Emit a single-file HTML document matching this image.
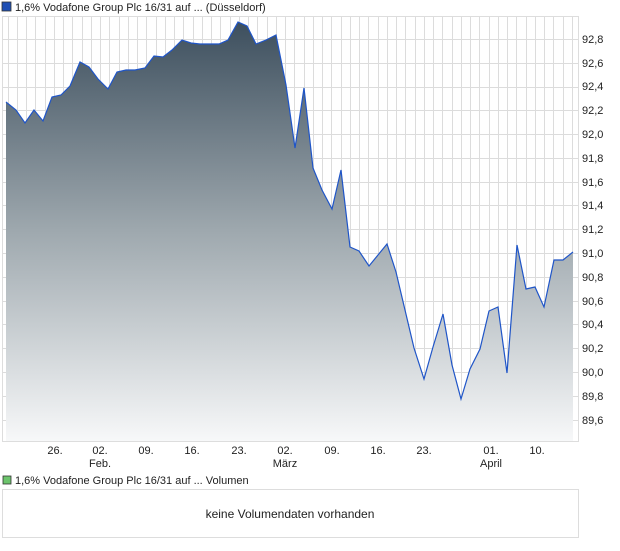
<!DOCTYPE html>
<html><head><meta charset="utf-8"><style>
body{margin:0;background:#fff;width:620px;height:546px;overflow:hidden;font-family:"Liberation Sans",sans-serif;}
</style></head><body>
<svg width="620" height="546" xmlns="http://www.w3.org/2000/svg" font-family="Liberation Sans, sans-serif">
<defs>
<linearGradient id="g" gradientUnits="userSpaceOnUse" x1="0" y1="20" x2="0" y2="441">
<stop offset="0" stop-color="#3c4e5d"/><stop offset="0.5" stop-color="#9ea8ae"/><stop offset="1" stop-color="#f7f8f9"/>
</linearGradient>
</defs>
<rect x="2" y="2" width="9" height="9" fill="#1f4fb4" stroke="#333" stroke-width="0.8"/>
<text x="15" y="11" font-size="11" fill="#222">1,6% Vodafone Group Plc 16/31 auf ... (Düsseldorf)</text>
<rect x="2.5" y="16.5" width="576" height="425" fill="#fff" stroke="#ddd"/>
<g stroke="#dcdcdc" stroke-width="1">
<path d="M3 39.5H578M3 63.5H578M3 87.5H578M3 110.5H578M3 134.5H578M3 158.5H578M3 182.5H578M3 205.5H578M3 229.5H578M3 253.5H578M3 277.5H578M3 301.5H578M3 324.5H578M3 348.5H578M3 372.5H578M3 396.5H578M3 420.5H578"/>
</g>
<g stroke="#dcdcdc">
<path d="M8.5 17V441M17.5 17V441M26.5 17V441M35.5 17V441M45.5 17V441M54.5 17V441M63.5 17V441M72.5 17V441M82.5 17V441M91.5 17V441M100.5 17V441M109.5 17V441M119.5 17V441M128.5 17V441M137.5 17V441M146.5 17V441M156.5 17V441M165.5 17V441M174.5 17V441M183.5 17V441M193.5 17V441M202.5 17V441M211.5 17V441M220.5 17V441M230.5 17V441M239.5 17V441M248.5 17V441M257.5 17V441M267.5 17V441M276.5 17V441M285.5 17V441M294.5 17V441M304.5 17V441M313.5 17V441M322.5 17V441M331.5 17V441M341.5 17V441M350.5 17V441M359.5 17V441M368.5 17V441M378.5 17V441M387.5 17V441M396.5 17V441M405.5 17V441M415.5 17V441M424.5 17V441M433.5 17V441M442.5 17V441M452.5 17V441M461.5 17V441M470.5 17V441M479.5 17V441M489.5 17V441M498.5 17V441M507.5 17V441M516.5 17V441M526.5 17V441M535.5 17V441M544.5 17V441M553.5 17V441M563.5 17V441M572.5 17V441"/>
</g>
<path fill="url(#g)" d="M6,441 L6,102 L16,110 L25,123 L34,110 L43,121 L52,97 L61,95 L70,86 L80,62 L89,67 L98,79 L108,89 L117,72 L126,70 L135,70 L145,68 L154,56 L163,57 L172,50 L182,40 L191,43 L200,44 L209,44 L219,44 L228,40 L238,22 L247,26 L256,44 L266,40 L276,35 L286,85 L295,148 L304,88 L313,168 L322,190 L332,209 L341,170 L350,247 L359,251 L369,266 L378,255 L387,244 L396,272 L405,310 L414,348 L424,379 L433,347 L443,314 L452,365 L461,399 L470,369 L480,349 L489,311 L498,307 L507,373 L517,245 L526,289 L535,287 L544,307 L554,260 L563,260 L573,252 L573,441 Z"/>
<path fill="none" stroke="#1f55c8" stroke-width="1.2" d="M6,102 L16,110 L25,123 L34,110 L43,121 L52,97 L61,95 L70,86 L80,62 L89,67 L98,79 L108,89 L117,72 L126,70 L135,70 L145,68 L154,56 L163,57 L172,50 L182,40 L191,43 L200,44 L209,44 L219,44 L228,40 L238,22 L247,26 L256,44 L266,40 L276,35 L286,85 L295,148 L304,88 L313,168 L322,190 L332,209 L341,170 L350,247 L359,251 L369,266 L378,255 L387,244 L396,272 L405,310 L414,348 L424,379 L433,347 L443,314 L452,365 L461,399 L470,369 L480,349 L489,311 L498,307 L507,373 L517,245 L526,289 L535,287 L544,307 L554,260 L563,260 L573,252"/>
<g font-size="11" fill="#222">
<text x="582" y="43">92,8</text><text x="582" y="67">92,6</text><text x="582" y="90">92,4</text><text x="582" y="114">92,2</text><text x="582" y="138">92,0</text><text x="582" y="162">91,8</text><text x="582" y="186">91,6</text><text x="582" y="209">91,4</text><text x="582" y="233">91,2</text><text x="582" y="257">91,0</text><text x="582" y="281">90,8</text><text x="582" y="305">90,6</text><text x="582" y="328">90,4</text><text x="582" y="352">90,2</text><text x="582" y="376">90,0</text><text x="582" y="400">89,8</text><text x="582" y="424">89,6</text>
</g>
<g font-size="11" fill="#222" text-anchor="middle">
<text x="55" y="454">26.</text><text x="100" y="454">02.</text><text x="146" y="454">09.</text><text x="192" y="454">16.</text><text x="239" y="454">23.</text><text x="285" y="454">02.</text><text x="332" y="454">09.</text><text x="378" y="454">16.</text><text x="424" y="454">23.</text><text x="491" y="454">01.</text><text x="537" y="454">10.</text>
<text x="100" y="467">Feb.</text><text x="285" y="467">März</text><text x="491" y="467">April</text>
</g>
<rect x="3" y="476" width="8" height="8" fill="#6cc46c" stroke="#333" stroke-width="0.8"/>
<text x="15" y="484" font-size="11" fill="#222">1,6% Vodafone Group Plc 16/31 auf ... Volumen</text>
<rect x="2.5" y="489.5" width="576" height="48" fill="#fff" stroke="#ddd"/>
<text x="290" y="518" font-size="12" fill="#222" text-anchor="middle">keine Volumendaten vorhanden</text>
</svg>
</body></html>
